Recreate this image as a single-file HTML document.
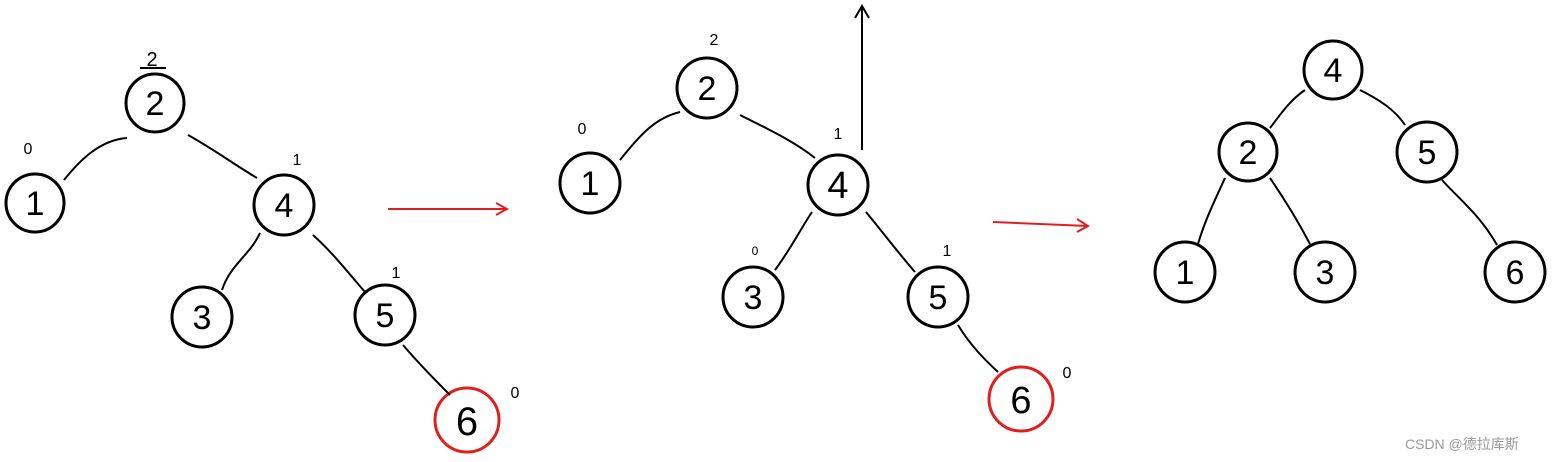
<!DOCTYPE html>
<html><head><meta charset="utf-8"><style>
html,body{margin:0;padding:0;background:#fff;}
svg{display:block}
text{font-family:"Liberation Sans",sans-serif;}
</style></head><body>
<svg width="1558" height="462" viewBox="0 0 1558 462" xmlns="http://www.w3.org/2000/svg">
<g fill="none" stroke="#000" stroke-width="3">
<circle cx="155" cy="103" r="29"/>
<circle cx="35" cy="203" r="29"/>
<circle cx="284" cy="205" r="30"/>
<circle cx="202" cy="317" r="30"/>
<circle cx="385" cy="315" r="30"/>
<circle cx="467" cy="420" r="32" stroke="#e02020"/>
<path d="M64,180 C80,160 100,140 127,138" stroke-width="2"/>
<path d="M188,135 C215,150 235,165 257,178" stroke-width="2"/>
<path d="M260,233 C250,255 230,265 222,290" stroke-width="2"/>
<path d="M313,235 C335,255 350,275 365,292" stroke-width="2"/>
<path d="M403,345 C420,365 435,380 450,395" stroke-width="2"/>

<circle cx="707" cy="88" r="30"/>
<circle cx="590" cy="183" r="30"/>
<circle cx="838" cy="185" r="30"/>
<circle cx="753" cy="297" r="30"/>
<circle cx="938" cy="297" r="30"/>
<circle cx="1021" cy="399" r="32" stroke="#e02020"/>
<path d="M620,160 C640,135 655,118 680,112" stroke-width="2"/>
<path d="M740,115 C770,130 795,142 815,158" stroke-width="2"/>
<path d="M812,212 C800,230 790,250 775,270" stroke-width="2"/>
<path d="M866,212 C885,235 900,255 915,272" stroke-width="2"/>
<path d="M958,325 C970,345 985,360 998,372" stroke-width="2"/>
<path d="M862,150 L862,6 M855,18 L862,6 L869,18" stroke-width="2"/>

<circle cx="1333" cy="70" r="29"/>
<circle cx="1248" cy="152" r="29"/>
<circle cx="1427" cy="152" r="30"/>
<circle cx="1185" cy="272" r="30"/>
<circle cx="1325" cy="272" r="30"/>
<circle cx="1515" cy="272" r="30"/>
<path d="M1305,90 C1290,100 1280,115 1270,128" stroke-width="2"/>
<path d="M1360,90 C1380,100 1395,110 1405,125" stroke-width="2"/>
<path d="M1225,178 C1215,200 1205,220 1198,244" stroke-width="2"/>
<path d="M1270,178 C1285,200 1300,225 1310,244" stroke-width="2"/>
<path d="M1442,180 C1460,200 1480,215 1497,245" stroke-width="2"/>
</g>
<g stroke="#e02020" stroke-width="2" fill="none">
<path d="M388,209 L507,209 M496,203 L507,209 L496,215"/>
<path d="M993,222 L1088,226 M1077,219 L1088,226 L1077,232"/>
</g>
<g font-size="34" text-anchor="middle" fill="#000">
<text x="155" y="115">2</text><text x="35" y="215">1</text><text x="284" y="217">4</text>
<text x="202" y="329">3</text><text x="385" y="327">5</text><text x="467" y="435" font-size="40">6</text>
<text x="707" y="100">2</text><text x="590" y="195">1</text><text x="838" y="198" font-size="38">4</text>
<text x="753" y="309">3</text><text x="938" y="309">5</text><text x="1021" y="413" font-size="38">6</text>
<text x="1333" y="82">4</text><text x="1248" y="164">2</text><text x="1427" y="164">5</text>
<text x="1185" y="284">1</text><text x="1325" y="284">3</text><text x="1515" y="284">6</text>
</g>
<g font-size="16" text-anchor="middle" fill="#000">
<text x="152" y="66" font-size="20">2</text><line x1="140" y1="68" x2="166" y2="68" stroke="#000" stroke-width="2"/>
<text x="28" y="154">0</text><text x="297" y="165">1</text><text x="396" y="278">1</text><text x="515" y="398">0</text>
<text x="714" y="45">2</text><text x="582" y="134">0</text><text x="838" y="139">1</text>
<text x="755" y="255" font-size="12">0</text><text x="947" y="256">1</text><text x="1067" y="378">0</text>
</g>
<text x="1405" y="449" font-size="14" fill="#999" font-family="Liberation Sans, Noto Sans CJK SC, sans-serif">CSDN @德拉库斯</text>
</svg>
</body></html>
